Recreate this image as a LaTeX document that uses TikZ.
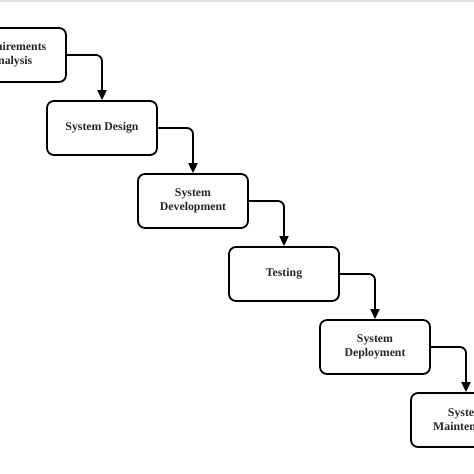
\documentclass[tikz,border=0pt]{standalone}
\usepackage{fontspec}
\setmainfont{Liberation Serif}
\usetikzlibrary{arrows.meta}
\tikzset{
  phase/.style={draw, line width=1.8pt, rounded corners=7pt, align=center, minimum width=110pt, minimum height=54pt, inner sep=0pt, text=black!85, font=\fontsize{11.8}{14}\selectfont\bfseries},
  phasearrow/.style={-{Triangle[length=10pt, width=9pt]}, line width=1.8pt, rounded corners=6pt}
}
\begin{document}
\begin{tikzpicture}[x=1pt, y=1pt]
\useasboundingbox (0,0) rectangle (474,-474);
\clip (0,0) rectangle (474,-474);
\fill[black!12] (0,0) rectangle (474,-2);
\node[phase] (req) at (11,-55) {Requirements\\Analysis};
\node[phase] (design) at (102,-128) {System Design};
\node[phase] (dev) at (193,-201) {System\\Development};
\node[phase] (test) at (284,-274) {Testing};
\node[phase] (deploy) at (375,-347) {System\\Deployment};
\node[phase] (maint) at (466,-420) {System\\Maintenance};
\draw[phasearrow] (req.east) -| (design.north);
\draw[phasearrow] (design.east) -| (dev.north);
\draw[phasearrow] (dev.east) -| (test.north);
\draw[phasearrow] (test.east) -| (deploy.north);
\draw[phasearrow] (deploy.east) -| (maint.north);
\end{tikzpicture}
\end{document}
